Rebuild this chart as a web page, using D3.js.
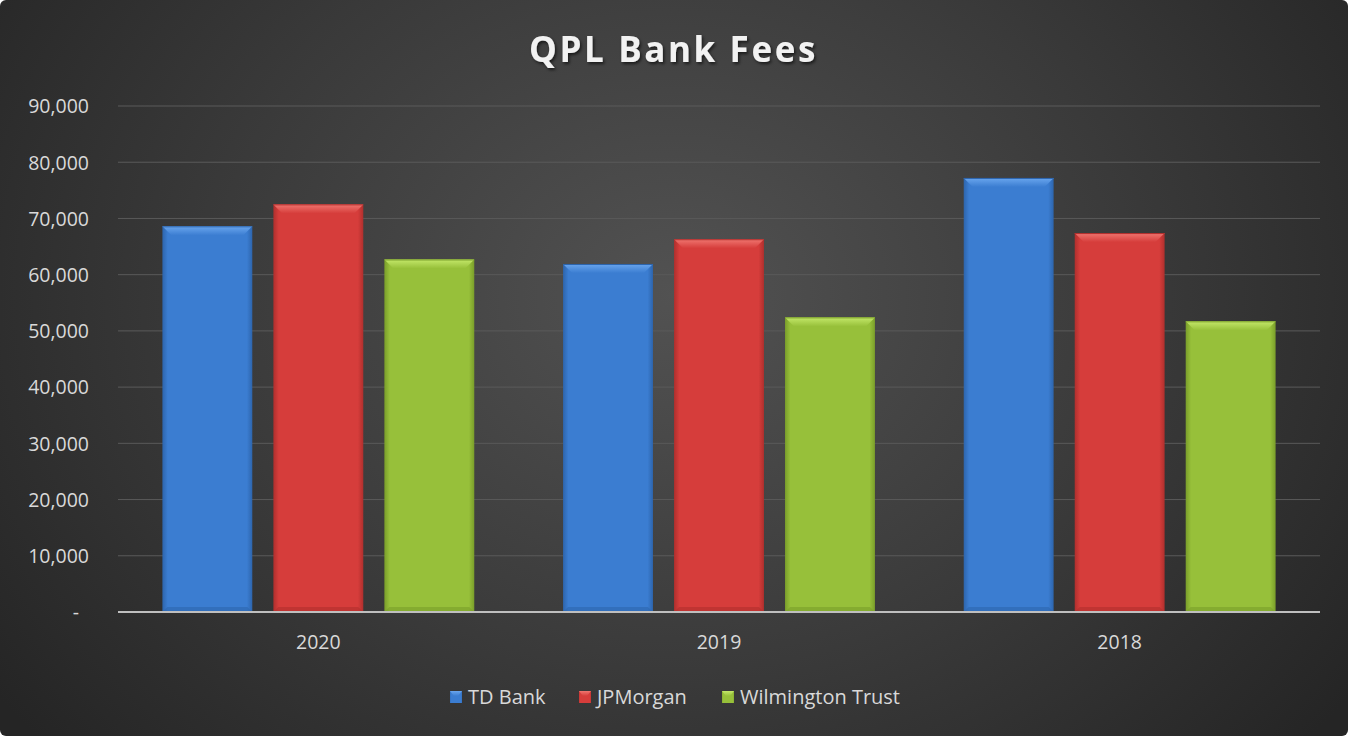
<!DOCTYPE html>
<html>
<head>
<meta charset="utf-8">
<script src="https://cdn.jsdelivr.net/npm/d3@7"></script>
<style>
  html, body { margin: 0; padding: 0; background: #fff; }
  svg { display: block; }
</style>
</head>
<body>
<div id="chart"></div>
<script>
const years = ["2020", "2019", "2018"];
const banks = ["TD Bank", "JPMorgan", "Wilmington Trust"];
const tdBank = [68600, 61900, 77200];
const jpMorgan = [72500, 66300, 67400];
const wilmington = [62700, 52400, 51700];
const yTicks = [0, 10000, 20000, 30000, 40000, 50000, 60000, 70000, 80000, 90000];

const colors = {
  "TD Bank": { base: "#3b7dd1", light: "#6aa6ee", dark: "#2d65ad" },
  "JPMorgan": { base: "#d63d3b", light: "#f07670", dark: "#b02f2d" },
  "Wilmington Trust": { base: "#97c03a", light: "#c4e86a", dark: "#7a9e2a" }
};
const series = [tdBank, jpMorgan, wilmington];

const width = 1349;
const height = 737;
const margin = { top: 106, right: 29, bottom: 125, left: 118 };

const svg = d3.select("#chart")
  .append("svg")
  .attr("width", width)
  .attr("height", height);

const defs = svg.append("defs");
const bg = defs.append("radialGradient")
  .attr("id", "bg")
  .attr("cx", "50%").attr("cy", "40%").attr("r", "62%")
  .attr("gradientTransform", "translate(0.5,0.4) scale(1,1.5) translate(-0.5,-0.4)");
bg.append("stop").attr("offset", "0%").attr("stop-color", "#525252");
bg.append("stop").attr("offset", "55%").attr("stop-color", "#3a3a3a");
bg.append("stop").attr("offset", "100%").attr("stop-color", "#252525");

banks.forEach((b, i) => {
  const c = colors[b];
  const g = defs.append("linearGradient").attr("id", `side${i}`)
    .attr("x1", 0).attr("x2", 1).attr("y1", 0).attr("y2", 0);
  g.append("stop").attr("offset", "0%").attr("stop-color", c.dark);
  g.append("stop").attr("offset", "6%").attr("stop-color", c.base);
  g.append("stop").attr("offset", "94%").attr("stop-color", c.base);
  g.append("stop").attr("offset", "100%").attr("stop-color", c.dark);
  const t = defs.append("linearGradient").attr("id", `top${i}`)
    .attr("x1", 0).attr("x2", 0).attr("y1", 0).attr("y2", 1);
  t.append("stop").attr("offset", "0%").attr("stop-color", c.light);
  t.append("stop").attr("offset", "100%").attr("stop-color", c.base);
});

const shadow = defs.append("filter").attr("id", "tshadow")
  .attr("x", "-10%").attr("y", "-20%").attr("width", "120%").attr("height", "150%");
shadow.append("feDropShadow").attr("dx", 1.5).attr("dy", 2).attr("stdDeviation", 1.5)
  .attr("flood-color", "#000").attr("flood-opacity", 0.6);

svg.append("rect")
  .attr("width", width - 1).attr("height", height - 1)
  .attr("rx", 6)
  .attr("fill", "url(#bg)");

svg.append("text")
  .attr("x", width / 2 - 1)
  .attr("y", 62)
  .attr("text-anchor", "middle")
  .attr("fill", "#f2f2f2")
  .attr("font-family", "'Open Sans', sans-serif")
  .attr("font-weight", "bold")
  .attr("font-size", 35)
  .attr("letter-spacing", 2.6)
  .attr("filter", "url(#tshadow)")
  .text("QPL Bank Fees");

const x = d3.scaleBand()
  .domain(years)
  .range([margin.left, width - margin.right]);

const xInner = d3.scaleBand()
  .domain(banks)
  .range([0, x.bandwidth()])
  .paddingInner(0.19)
  .paddingOuter(0.4);

const y = d3.scaleLinear()
  .domain([0, 90000])
  .range([height - margin.bottom, margin.top]);

// gridlines
svg.append("g")
  .selectAll("line")
  .data(yTicks.slice(1))
  .join("line")
    .attr("x1", margin.left)
    .attr("x2", width - margin.right)
    .attr("y1", d => y(d))
    .attr("y2", d => y(d))
    .attr("stroke", "#5a5a5a")
    .attr("stroke-width", 1);

// y axis labels
const fmt = d3.format(",");
const yAxis = d3.axisLeft(y)
  .tickValues(yTicks)
  .tickSize(0)
  .tickPadding(29)
  .tickFormat(d => d === 0 ? "-" : fmt(d));
svg.append("g")
  .attr("transform", `translate(${margin.left},0)`)
  .call(yAxis)
  .call(g => g.select(".domain").remove())
  .call(g => g.selectAll("text")
    .attr("fill", "#d9d9d9")
    .attr("font-family", "'Open Sans', sans-serif")
    .attr("font-size", 19.5)
    .attr("dy", "0.35em"))
  .call(g => g.selectAll(".tick").filter(d => d === 0).select("text")
    .attr("dx", -10));

// bars
const groups = svg.append("g")
  .selectAll("g")
  .data(years)
  .join("g")
    .attr("transform", d => `translate(${x(d)},0)`);

const bev = 9;
groups.each(function(year, yi) {
  const g = d3.select(this);
  banks.forEach((b, bi) => {
    const v = series[bi][yi];
    const bx = xInner(b);
    const bw = xInner.bandwidth();
    const top = y(v);
    const bottom = y(0);
    const c = colors[b];
    g.append("rect")
      .attr("x", bx).attr("y", top)
      .attr("width", bw).attr("height", bottom - top)
      .attr("fill", `url(#side${bi})`);
    // bottom bevel
    g.append("path")
      .attr("d", `M${bx},${bottom} L${bx + bw},${bottom} L${bx + bw - 5},${bottom - 5} L${bx + 5},${bottom - 5} Z`)
      .attr("fill", c.dark)
      .attr("opacity", 0.6);
    // top bevel
    g.append("path")
      .attr("d", `M${bx},${top} L${bx + bw},${top} L${bx + bw - bev},${top + bev} L${bx + bev},${top + bev} Z`)
      .attr("fill", `url(#top${bi})`);
    g.append("line")
      .attr("x1", bx).attr("x2", bx + bw)
      .attr("y1", top + 0.5).attr("y2", top + 0.5)
      .attr("stroke", c.dark).attr("stroke-width", 1);
  });
});

// baseline
svg.append("line")
  .attr("x1", margin.left)
  .attr("x2", width - margin.right)
  .attr("y1", y(0))
  .attr("y2", y(0))
  .attr("stroke", "#bfbfbf")
  .attr("stroke-width", 2);

// x axis labels
const xAxis = d3.axisBottom(x).tickSize(0).tickPadding(23);
svg.append("g")
  .attr("transform", `translate(0,${y(0)})`)
  .call(xAxis)
  .call(g => g.select(".domain").remove())
  .call(g => g.selectAll("text")
    .attr("fill", "#d9d9d9")
    .attr("font-family", "'Open Sans', sans-serif")
    .attr("font-size", 19.5));

// legend
const legendX = [450, 579, 722];
const legend = svg.append("g")
  .selectAll("g")
  .data(banks)
  .join("g")
    .attr("transform", (d, i) => `translate(${legendX[i]},697)`);
legend.append("rect")
  .attr("x", 0).attr("y", -6)
  .attr("width", 12).attr("height", 12)
  .attr("fill", (d, i) => `url(#side${i})`);
legend.append("path")
  .attr("d", "M0,-6 L12,-6 L8,-1 L4,-1 Z")
  .attr("fill", (d, i) => `url(#top${i})`);
legend.append("text")
  .attr("x", 18)
  .attr("dy", "0.35em")
  .attr("fill", "#d9d9d9")
  .attr("font-family", "'Open Sans', sans-serif")
  .attr("font-size", 20)
  .text(d => d);
</script>
</body>
</html>
